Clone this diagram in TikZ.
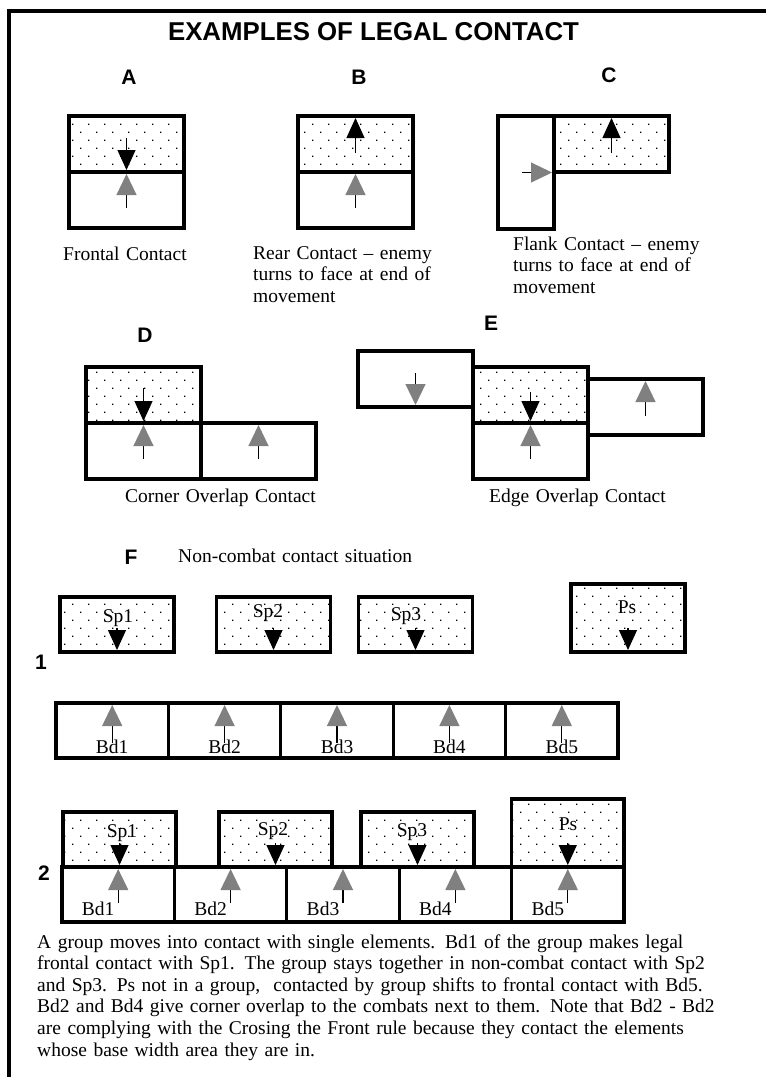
\documentclass[tikz,border=0pt]{standalone}
\usepackage{fontspec}
\setmainfont{Liberation Serif}
\setsansfont{Liberation Sans}
\usetikzlibrary{arrows.meta, positioning, patterns}

% sparse dot fill for the enemy elements
\pgfdeclarepatternformonly{elemdots}{\pgfpoint{-1pt}{-1pt}}{\pgfpoint{15pt}{15pt}}{\pgfpoint{16pt}{16pt}}{%
  \pgfpathrectangle{\pgfpoint{0pt}{0pt}}{\pgfpoint{1.4pt}{1.4pt}}%
  \pgfpathrectangle{\pgfpoint{8pt}{8pt}}{\pgfpoint{1.4pt}{1.4pt}}%
  \pgfusepath{fill}}

\tikzset{
  frameline/.style={line width=3.5pt},
  elem/.style={draw, line width=3.2pt, inner sep=0pt, outer sep=0pt,
    minimum width=115pt, minimum height=56pt},
  enemy/.style={elem, pattern=elemdots},
  bdbox/.style={elem, minimum width=112.4pt, minimum height=55pt},
  spbox/.style={enemy, minimum width=114pt, minimum height=55pt},
  psbox/.style={enemy, minimum width=114pt, minimum height=68pt},
  facing/.style={line width=1.2pt, -{Triangle[length=20pt, width=18pt]}, shorten >=2pt},
  ours/.style={line width=1.2pt, -{Triangle[length=21pt, width=20pt, color=black!50]}, shorten >=2pt},
  note/.style={font=\fontsize{19.5}{21.6}\selectfont, inner sep=0pt,
    anchor=base west, text width=740pt, align=left},
  tag/.style={font=\sffamily\bfseries\fontsize{21}{24}\selectfont, inner sep=0pt},
  elemlbl/.style={font=\fontsize{19.5}{21.6}\selectfont, inner sep=0pt, anchor=base}
}

\begin{document}
\begin{tikzpicture}[x=1pt, y=-1pt]
  \useasboundingbox (0,0) rectangle (766,1077);

  % Frame and title
  \draw[frameline] (766,11) -- (9,11) -- (9,1077);
  \node[font=\sffamily\bfseries\fontsize{25.8}{28}\selectfont, inner sep=0pt] (title) at (373.5,32) {EXAMPLES OF LEGAL CONTACT};

  % A: frontal contact
  \node[tag] (tagA) at (129,77) {A};
  \node[enemy, anchor=north west] (a1) at (69,116) {};
  \node[elem, below=0pt of a1] (a2) {};
  \draw[facing] ([yshift=34pt]a1.south) -- (a1.south);
  \draw[ours] ([yshift=-36pt]a2.north) -- (a2.north);
  \node[note] (capA) at (63,260) {Frontal Contact};

  % B: rear contact
  \node[tag] (tagB) at (359,77) {B};
  \node[enemy, anchor=north west] (b1) at (298,116) {};
  \node[elem, below=0pt of b1] (b2) {};
  \draw[facing] ([yshift=-37pt]b1.north) -- (b1.north);
  \draw[ours] ([yshift=-36pt]b2.north) -- (b2.north);
  \node[note] (capB) at (253,259) {Rear Contact -- enemy\\turns to face at end of\\movement};

  % C: flank contact
  \node[tag] (tagC) at (609,75) {C};
  \node[enemy, anchor=north west] (c1) at (554,116) {};
  \node[elem, minimum width=56pt, minimum height=113pt, anchor=north east] (c2) at (c1.north west) {};
  \draw[facing] ([yshift=-37pt]c1.north) -- (c1.north);
  \draw[ours] ([xshift=-32pt]c2.east) -- (c2.east);
  \node[note] (capC) at (513,250) {Flank Contact -- enemy\\turns to face at end of\\movement};

  % D: corner overlap
  \node[tag] (tagD) at (145,335) {D};
  \node[enemy, anchor=north west] (d1) at (86,367) {};
  \node[elem, below=0pt of d1] (d2) {};
  \node[elem, right=0pt of d2] (d3) {};
  \draw[facing] ([yshift=35pt]d1.south) -- (d1.south);
  \draw[ours] ([yshift=-36pt]d2.north) -- (d2.north);
  \draw[ours] ([yshift=-36pt]d3.north) -- (d3.north);
  \node[note] (capD) at (125,502) {Corner Overlap Contact};

  % E: edge overlap
  \node[tag] (tagE) at (491,323) {E};
  \node[enemy, anchor=north west] (e2) at (473,367) {};
  \node[elem, below=0pt of e2] (e3) {};
  \node[elem, anchor=north east] (e1) at (473,351) {};
  \node[elem, anchor=north west] (e4) at (588,379) {};
  \draw[ours] ([yshift=34pt]e1.south) -- (e1.south);
  \draw[facing] ([yshift=31pt]e2.south) -- (e2.south);
  \draw[ours] ([yshift=-36pt]e3.north) -- (e3.north);
  \draw[ours] ([yshift=-37pt]e4.north) -- (e4.north);
  \node[note] (capE) at (489,502) {Edge Overlap Contact};

  % F: non-combat contact
  \node[tag] (tagF) at (131,557) {F};
  \node[note] (capF) at (178,562) {Non-combat contact situation};

  % Situation 1
  \node[tag] (row1) at (41,662) {1};
  \node[spbox, anchor=south] (sp11) at (117,652) {};
  \node[spbox, anchor=south] (sp12) at (273.5,652) {};
  \node[spbox, anchor=south] (sp13) at (415.5,652) {};
  \node[psbox, anchor=south] (ps1) at (628,652) {};
  \node[elemlbl] (lsp11) at (118,622) {Sp1};
  \node[elemlbl] (lsp12) at (268,617) {Sp2};
  \node[elemlbl] (lsp13) at (406,620) {Sp3};
  \node[elemlbl] (lps1) at (627,613) {Ps};
  \draw[facing] ([yshift=24pt]sp11.south) -- (sp11.south);
  \draw[facing] ([yshift=24pt]sp12.south) -- (sp12.south);
  \draw[facing] ([yshift=24pt]sp13.south) -- (sp13.south);
  \draw[facing] ([yshift=24pt]ps1.south) -- (ps1.south);

  \node[bdbox, anchor=north west] (bd11) at (56,703) {};
  \node[bdbox, right=0pt of bd11] (bd12) {};
  \node[bdbox, right=0pt of bd12] (bd13) {};
  \node[bdbox, right=0pt of bd13] (bd14) {};
  \node[bdbox, right=0pt of bd14] (bd15) {};
  \node[elemlbl] (lbd11) at ([yshift=5pt]bd11.south) {Bd1};
  \node[elemlbl] (lbd12) at ([yshift=5pt]bd12.south) {Bd2};
  \node[elemlbl] (lbd13) at ([yshift=5pt]bd13.south) {Bd3};
  \node[elemlbl] (lbd14) at ([yshift=5pt]bd14.south) {Bd4};
  \node[elemlbl] (lbd15) at ([yshift=5pt]bd15.south) {Bd5};
  \draw[ours] ([yshift=15pt]bd11.south) -- (bd11.north);
  \draw[ours] ([yshift=15pt]bd12.south) -- (bd12.north);
  \draw[ours] ([yshift=15pt]bd13.south) -- (bd13.north);
  \draw[ours] ([yshift=15pt]bd14.south) -- (bd14.north);
  \draw[ours] ([yshift=15pt]bd15.south) -- (bd15.north);

  % Situation 2
  \node[tag] (row2) at (44,873) {2};
  \node[bdbox, anchor=north west] (bd21) at (62,867) {};
  \node[bdbox, right=0pt of bd21] (bd22) {};
  \node[bdbox, right=0pt of bd22] (bd23) {};
  \node[bdbox, right=0pt of bd23] (bd24) {};
  \node[bdbox, right=0pt of bd24] (bd25) {};
  \node[spbox, minimum width=113pt, anchor=south] (sp21) at (119.5,867) {};
  \node[spbox, minimum width=113pt, anchor=south] (sp22) at (275.5,867) {};
  \node[spbox, minimum width=113pt, anchor=south] (sp23) at (417.5,867) {};
  \node[psbox, minimum width=112.4pt, above=0pt of bd25] (ps2) {};
  \node[elemlbl] (lsp21) at (122,837) {Sp1};
  \node[elemlbl] (lsp22) at (273,835) {Sp2};
  \node[elemlbl] (lsp23) at (412,836) {Sp3};
  \node[elemlbl] (lps2) at (568,830) {Ps};
  \draw[facing] ([yshift=24pt]sp21.south) -- (sp21.south);
  \draw[facing] ([yshift=24pt]sp22.south) -- (sp22.south);
  \draw[facing] ([yshift=24pt]sp23.south) -- (sp23.south);
  \draw[facing] ([yshift=24pt]ps2.south) -- (ps2.south);
  \node[elemlbl] (lbd21) at ([xshift=-20pt, yshift=7pt]bd21.south) {Bd1};
  \node[elemlbl] (lbd22) at ([xshift=-20pt, yshift=7pt]bd22.south) {Bd2};
  \node[elemlbl] (lbd23) at ([xshift=-20pt, yshift=7pt]bd23.south) {Bd3};
  \node[elemlbl] (lbd24) at ([xshift=-20pt, yshift=7pt]bd24.south) {Bd4};
  \node[elemlbl] (lbd25) at ([xshift=-20pt, yshift=7pt]bd25.south) {Bd5};
  \draw[ours] ([yshift=-36pt]bd21.north) -- (bd21.north);
  \draw[ours] ([yshift=-36pt]bd22.north) -- (bd22.north);
  \draw[ours] ([yshift=-36pt]bd23.north) -- (bd23.north);
  \draw[ours] ([yshift=-36pt]bd24.north) -- (bd24.north);
  \draw[ours] ([yshift=-36pt]bd25.north) -- (bd25.north);

  % Explanation
  \node[note] (para) at (37,948) {A group moves into contact with single elements.  Bd1 of the group makes legal\\
    frontal contact with Sp1.  The group stays together in non-combat contact with Sp2\\
    and Sp3.  Ps not in a group,\ \ contacted by group shifts to frontal contact with Bd5.\\
    Bd2 and Bd4 give corner overlap to the combats next to them.  Note that Bd2 - Bd2\\
    are complying with the Crosing the Front rule because they contact the elements\\
    whose base width area they are in.};
\end{tikzpicture}
\end{document}
